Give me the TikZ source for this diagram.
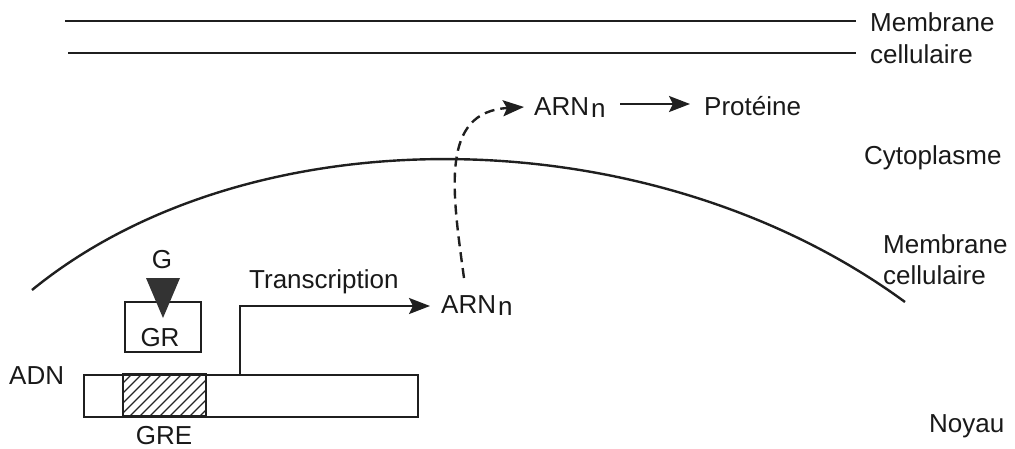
\documentclass[tikz,border=0pt]{standalone}
\usepackage{fontspec}
\setmainfont{Liberation Sans}
\usetikzlibrary{arrows.meta}
\newcommand{\arnn}{ARN\hspace{2pt}\raisebox{-2.5pt}{n}}
\begin{document}
\begin{tikzpicture}[x=1pt,y=-1pt,
  lbl/.style={anchor=base west,inner sep=0pt,font=\fontsize{26}{29}\selectfont,text=black!90},
  lblc/.style={anchor=base,inner sep=0pt,font=\fontsize{26}{29}\selectfont,text=black!90},
  memb/.style={line width=2.4pt,draw=black!88},
  arr/.style={line width=2.4pt,draw=black!88,-{Stealth[length=21pt,width=16pt,inset=4pt]}},
  box/.style={draw=black!88,line width=2.4pt,inner sep=0pt}]
\useasboundingbox (0,0) rectangle (1015,448);
% outer membrane
\coordinate (m1a) at (65,21); \coordinate (m1b) at (856,21);
\coordinate (m2a) at (68,53); \coordinate (m2b) at (856,53);
\draw[memb] (m1a) -- (m1b);
\draw[memb] (m2a) -- (m2b);
\node[lbl] (memb1) at (870,31) {Membrane};
\node[lbl] (cell1) at (870,63) {cellulaire};
\node[lbl] (cyto) at (864,164) {Cytoplasme};
\node[lbl] (memb2) at (883,253) {Membrane};
\node[lbl] (cell2) at (883,284) {cellulaire};
\node[lbl] (noyau) at (929,432) {Noyau};
% nuclear membrane
\coordinate (n1) at (32,290); \coordinate (n2) at (905,302);
\draw[memb] (n1) .. controls (250,112) and (650,115) .. (n2);
% mRNA top
\node[lbl] (arnt) at (534,115) {\arnn};
\node[lbl] (prot) at (704,115) {Protéine};
\coordinate (pa) at (620,104); \coordinate (pb) at (690,104);
\draw[arr] (pa) -- (pb);
% DNA
\node[box,minimum width=334pt,minimum height=42pt,anchor=north west] (adn) at (83,374) {};
\coordinate (gre1) at (123,374); \coordinate (gre2) at (206,416);
\begin{scope}
\clip (gre1) rectangle (gre2);
\foreach \x in {80,90,...,210} \draw[line width=1.3pt,black!85] (\x,416) -- (\x+42,374);
\end{scope}
\draw[box] (gre1) rectangle (gre2);
\node[lbl] (adnl) at (9,384) {ADN};
\node[lblc] (grel) at (164,444) {GRE};
% GR box
\node[box,minimum width=76pt,minimum height=50pt,anchor=north west] (gr) at (124,301) {};
\node[lblc] (grl) at (160,346) {GR};
\node[lblc] (g) at (162,268) {G};
\coordinate (ta) at (146,278); \coordinate (tb) at (180,278); \coordinate (tc) at (163,318);
\fill[black!80] (ta) -- (tb) -- (tc) -- cycle;
% transcription
\coordinate (t1) at (240,374); \coordinate (t2) at (430,306);
\draw[arr] (t1) |- (t2);
\node[lbl] (trans) at (249,288) {Transcription};
\node[lbl] (arnb) at (441,313) {\arnn};
% export
\coordinate (e1) at (464,278); \coordinate (e2) at (524,107);
\draw[arr,dash pattern=on 10pt off 6pt] (e1) .. controls (452,190) and (440,112) .. (e2);
\end{tikzpicture}
\end{document}
